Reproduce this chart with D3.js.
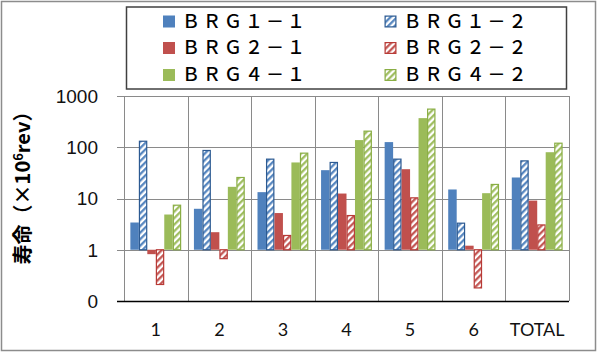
<!DOCTYPE html>
<html>
<head>
<meta charset="utf-8">
<script src="https://cdn.jsdelivr.net/npm/d3@7"></script>
<style>
  body { margin: 0; background: #fff; }
  svg { display: block; }
</style>
</head>
<body>
<div id="chart"></div>
<script>
// ===== data =====
const categories = ['1', '2', '3', '4', '5', '6', 'TOTAL']
const seriesNames = ['ＢＲＧ１－１', 'ＢＲＧ１－２', 'ＢＲＧ２－１', 'ＢＲＧ２－２', 'ＢＲＧ４－１', 'ＢＲＧ４－２']
const brg11 = [3.4, 6.3, 13.3, 35.7, 126, 15, 25.7]
const brg12 = [131, 86.5, 58.6, 50.5, 58.6, 3.3, 54.2]
const brg21 = [0.82, 2.2, 5.2, 12.5, 37.3, 1.2, 9.1]
const brg22 = [0.21, 0.67, 1.9, 4.65, 10.3, 0.18, 3.05]
const brg41 = [4.87, 16.9, 50.5, 138, 370, 12.7, 80]
const brg42 = [7.4, 25.7, 76.7, 206, 555, 18.8, 120]
const yTicks = [0.1, 1, 10, 100, 1000]
const yTickLabels = ['0', '1', '10', '100', '1000']

const seriesValues = [brg11, brg12, brg21, brg22, brg41, brg42]
const colors = ['#4F81BD', '#4F81BD', '#C0504D', '#C0504D', '#9BBB59', '#9BBB59']
const strokes = ['#2C5A92', '#2C5A92', '#B83A36', '#B83A36', '#8AAE45', '#8AAE45']
const hatched = [false, true, false, true, false, true]

//===== structure =====
const width = 600
const height = 352
const margin = {top: 96, right: 31, bottom: 51, left: 124}

const svg = d3.select('#chart').append('svg')
  .attr('width', width)
  .attr('height', height)

// outer chart border
svg.append('rect')
  .attr('x', 1.5).attr('y', 1.5)
  .attr('width', 594).attr('height', 349)
  .attr('fill', '#fff')
  .attr('stroke', '#8c8c8c')
  .attr('stroke-width', 1.5)

const defs = svg.append('defs')
seriesNames.forEach((s, i) => {
  if(!hatched[i]) return
  const p = defs.append('pattern')
    .attr('id', 'hatch' + i)
    .attr('patternUnits', 'userSpaceOnUse')
    .attr('width', 4.6)
    .attr('height', 4.6)
    .attr('patternTransform', 'rotate(45)')
  p.append('rect').attr('width', 4.6).attr('height', 4.6).attr('fill', '#fff')
  p.append('line')
    .attr('x1', 1.2).attr('x2', 1.2)
    .attr('y1', 0).attr('y2', 4.6)
    .attr('stroke', colors[i])
    .attr('stroke-width', 2.2)
})

const x = d3.scaleBand()
  .domain(categories)
  .range([margin.left, width - margin.right])
  .padding(0)

const xInner = d3.scaleBand()
  .domain(d3.range(seriesNames.length))
  .range([0, x.bandwidth()])
  .paddingInner(0)
  .paddingOuter(0.75)

const y = d3.scaleLog()
  .domain([0.1, 1000])
  .range([height - margin.bottom, margin.top])

const plot = svg.append('g')

// horizontal gridlines
plot.append('g')
  .selectAll('line')
  .data(yTicks.slice(1))
  .enter()
  .append('line')
  .attr('x1', margin.left - 7)
  .attr('x2', width - margin.right)
  .attr('y1', d => Math.round(y(d)) + 0.5)
  .attr('y2', d => Math.round(y(d)) + 0.5)
  .attr('stroke', '#8a8a8a')
  .attr('stroke-width', 1)

// vertical gridlines at category boundaries
plot.append('g')
  .selectAll('line')
  .data(categories)
  .enter()
  .append('line')
  .attr('x1', d => Math.round(x(d) + x.bandwidth()) + 0.5)
  .attr('x2', d => Math.round(x(d) + x.bandwidth()) + 0.5)
  .attr('y1', margin.top)
  .attr('y2', height - margin.bottom)
  .attr('stroke', '#8a8a8a')
  .attr('stroke-width', 1)

// left axis line
plot.append('line')
  .attr('x1', margin.left + 0.5).attr('x2', margin.left + 0.5)
  .attr('y1', margin.top).attr('y2', height - margin.bottom)
  .attr('stroke', '#8a8a8a')

// bars, drawn from 1
const groups = plot.append('g')
  .selectAll('g')
  .data(categories)
  .enter()
  .append('g')
  .attr('transform', d => `translate(${x(d)},0)`)

groups.each(function(cat, ci) {
  const g = d3.select(this)
  seriesValues.forEach((vals, si) => {
    const v = vals[ci]
    const y0 = y(1)
    const y1 = y(v)
    const bx = xInner(si)
    const bw = xInner.bandwidth()
    const r = g.append('rect')
      .attr('x', hatched[si] ? bx + 0.6 : bx)
      .attr('width', hatched[si] ? bw - 1.2 : bw)
      .attr('y', Math.min(y0, y1))
      .attr('height', Math.abs(y0 - y1))
    if(hatched[si])
    {
      r.attr('fill', `url(#hatch${si})`)
        .attr('stroke', strokes[si])
        .attr('stroke-width', 1.2)
    }
    else
    {
      r.attr('fill', colors[si])
    }
  })
})

// bottom axis (at the "0" line)
plot.append('line')
  .attr('x1', margin.left - 7).attr('x2', width - margin.right)
  .attr('y1', Math.round(y(0.1)) + 0.5).attr('y2', Math.round(y(0.1)) + 0.5)
  .attr('stroke', '#000')
  .attr('stroke-width', 1.3)

// y tick labels
plot.append('g')
  .selectAll('text')
  .data(yTicks)
  .enter()
  .append('text')
  .attr('x', 98)
  .attr('y', d => y(d))
  .attr('dy', '0.36em')
  .attr('text-anchor', 'end')
  .attr('font-family', 'Liberation Sans, Arial, sans-serif')
  .attr('font-size', 19)
  .attr('fill', '#111')
  .text((d, i) => yTickLabels[i])

// x labels
plot.append('g')
  .selectAll('text')
  .data(categories)
  .enter()
  .append('text')
  .attr('x', d => x(d) + x.bandwidth() / 2)
  .attr('y', 336)
  .attr('text-anchor', 'middle')
  .attr('font-family', 'Lato, Open Sans, sans-serif')
  .attr('font-size', 18)
  .attr('fill', '#111')
  .text(d => d)

// y title
const title = svg.append('text')
  .attr('transform', 'translate(30,183) rotate(-90)')
  .attr('text-anchor', 'middle')
  .attr('font-family', 'Noto Sans CJK JP, sans-serif')
  .attr('font-weight', 'bold')
  .attr('font-size', 20)
  .attr('fill', '#000')
title.append('tspan').text('寿命（×10')
title.append('tspan').attr('font-size', 13).attr('dy', -7).text('6')
title.append('tspan').attr('dy', 7).text('rev）')

//===== legend =====
svg.append('rect')
  .attr('x', 126.5).attr('y', 7)
  .attr('width', 440).attr('height', 82)
  .attr('fill', '#fff')
  .attr('stroke', '#404040')
  .attr('stroke-width', 1.5)

const legendCols = [163, 384.5]
const legendRows = [21.5, 48, 75]

const legend = svg.append('g')
  .selectAll('g')
  .data(seriesNames)
  .enter()
  .append('g')
  .attr('transform', (d, i) => `translate(${legendCols[i % 2]},${legendRows[Math.floor(i / 2)]})`)

legend.append('rect')
  .attr('x', (d, i) => hatched[i] ? 0.6 : 0)
  .attr('y', (d, i) => hatched[i] ? -5.4 : -6)
  .attr('width', (d, i) => hatched[i] ? 10.8 : 12)
  .attr('height', (d, i) => hatched[i] ? 10.8 : 12)
  .attr('fill', (d, i) => hatched[i] ? `url(#hatch${i})` : colors[i])
  .attr('stroke', (d, i) => hatched[i] ? strokes[i] : 'none')
  .attr('stroke-width', 1.2)

legend.append('text')
  .attr('x', 19)
  .attr('y', 0)
  .attr('dy', '0.36em')
  .attr('font-family', 'Noto Sans CJK JP, sans-serif')
  .attr('font-size', 18)
  .attr('font-weight', 500)
  .attr('letter-spacing', 3)
  .attr('fill', '#000')
  .text(d => d)
</script>
</body>
</html>
